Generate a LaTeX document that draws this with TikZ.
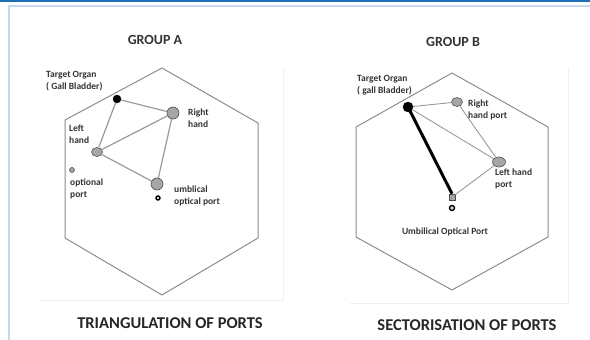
\documentclass[tikz,border=0pt]{standalone}
\usepackage{fontspec}
\setmainfont{Carlito}
\usetikzlibrary{shapes.geometric}
\definecolor{framebar}{HTML}{1F6FB5}
\definecolor{framelight}{HTML}{C5D8EE}

\begin{document}
\begin{tikzpicture}[x=1pt, y=-1pt]
    \tikzset{
        hexline/.style={draw=gray!90, line width=1pt},
        link/.style={draw=gray!80, line width=1.2pt},
        port/.style={circle, draw=gray!60!black, fill=gray!70, line width=0.6pt, inner sep=0pt},
        organ/.style={circle, draw=black, fill=black, inner sep=0pt},
        camera/.style={circle, draw=black, fill=gray!30, line width=1.4pt, inner sep=0pt, minimum size=4pt},
        port label/.style={font=\fontsize{9.5}{11.5}\selectfont\bfseries, text=black!80, align=left, inner sep=0pt, anchor=west},
        group title/.style={font=\fontsize{14}{15}\selectfont\bfseries, text=black!80},
        caption/.style={font=\fontsize{16.5}{18}\selectfont\bfseries, text=black!85}
    }
    \useasboundingbox (0,0) rectangle (590,340);

    % --- Rahmen der Abbildung ---
    \fill[framebar] (0,0) rectangle (590,1.5);
    \draw[framelight, line width=1.5pt] (9,345) -- (9,6) -- (595,6);
    \draw[gray!12] (40,300) -- (283,300) -- (283,67);
    \draw[gray!12] (350,303) -- (568,303) -- (568,67);

    % --- Gruppe A: Triangulation ---
    \node[group title] (titleA) at (155,40) {GROUP A};
    \draw[hexline] (162,68) -- (258,123) -- (258,238) -- (162,295) -- (65,238) -- (65,120) -- cycle;

    \node[organ, minimum size=8pt] (targetA) at (117,99) {};
    \node[port, minimum size=12pt] (rightA) at (173,113) {};
    \node[port, ellipse, minimum width=11pt, minimum height=9pt] (leftA) at (97,152) {};
    \node[port, minimum size=12pt] (umbA) at (157,184) {};
    \node[port, minimum size=5pt] (optA) at (72,170) {};
    \node[camera] (camA) at (158,198) {};

    \draw[link] (targetA) -- (rightA);
    \draw[link] (targetA) -- (leftA);
    \draw[link] (leftA) -- (rightA);
    \draw[link] (leftA) -- (umbA);
    \draw[link] (rightA) -- (umbA);

    \node[port label] (targetlabelA) at (46,81) {Target Organ\\( Gall Bladder)};
    \node[port label] (leftlabelA) at (69,134) {Left\\hand};
    \node[port label] (rightlabelA) at (188,118) {Right\\hand};
    \node[port label] (optlabelA) at (70,189) {optional\\port};
    \node[port label] (umblabelA) at (174,196) {umblical\\optical port};

    \node[caption] (captionA) at (170,323) {TRIANGULATION OF PORTS};

    % --- Gruppe B: Sektorisierung ---
    \node[group title] (titleB) at (453,42) {GROUP B};
    \draw[hexline] (452,73) -- (548,127) -- (548,237) -- (452,290) -- (356,237) -- (356,127) -- cycle;

    \node[organ, minimum size=10pt] (targetB) at (408,107) {};
    \node[port, ellipse, minimum width=11pt, minimum height=9pt] (rightB) at (457,102) {};
    \node[port, ellipse, minimum width=13pt, minimum height=10pt] (leftB) at (499,162) {};
    \node[port, rectangle, minimum size=6pt] (umbB) at (452,197) {};
    \node[camera, minimum size=5pt] (camB) at (452,208) {};

    \draw[link, line width=0.9pt] (targetB) -- (rightB);
    \draw[link, line width=0.9pt] (rightB) -- (leftB);
    \draw[link, line width=0.9pt] (targetB) -- (leftB);
    \draw[link, line width=0.9pt] (leftB) -- (umbB);
    \draw[black, line width=3pt] (targetB.center) -- (umbB.north);

    \node[port label] (targetlabelB) at (357,85) {Target Organ\\( gall Bladder)};
    \node[port label] (rightlabelB) at (468,110) {Right\\hand port};
    \node[port label] (leftlabelB) at (495,179) {Left hand\\port};
    \node[port label, anchor=center, align=center] (umblabelB) at (445,232) {Umbilical Optical Port};

    \node[caption] (captionB) at (467,325) {SECTORISATION OF PORTS};
\end{tikzpicture}
\end{document}
